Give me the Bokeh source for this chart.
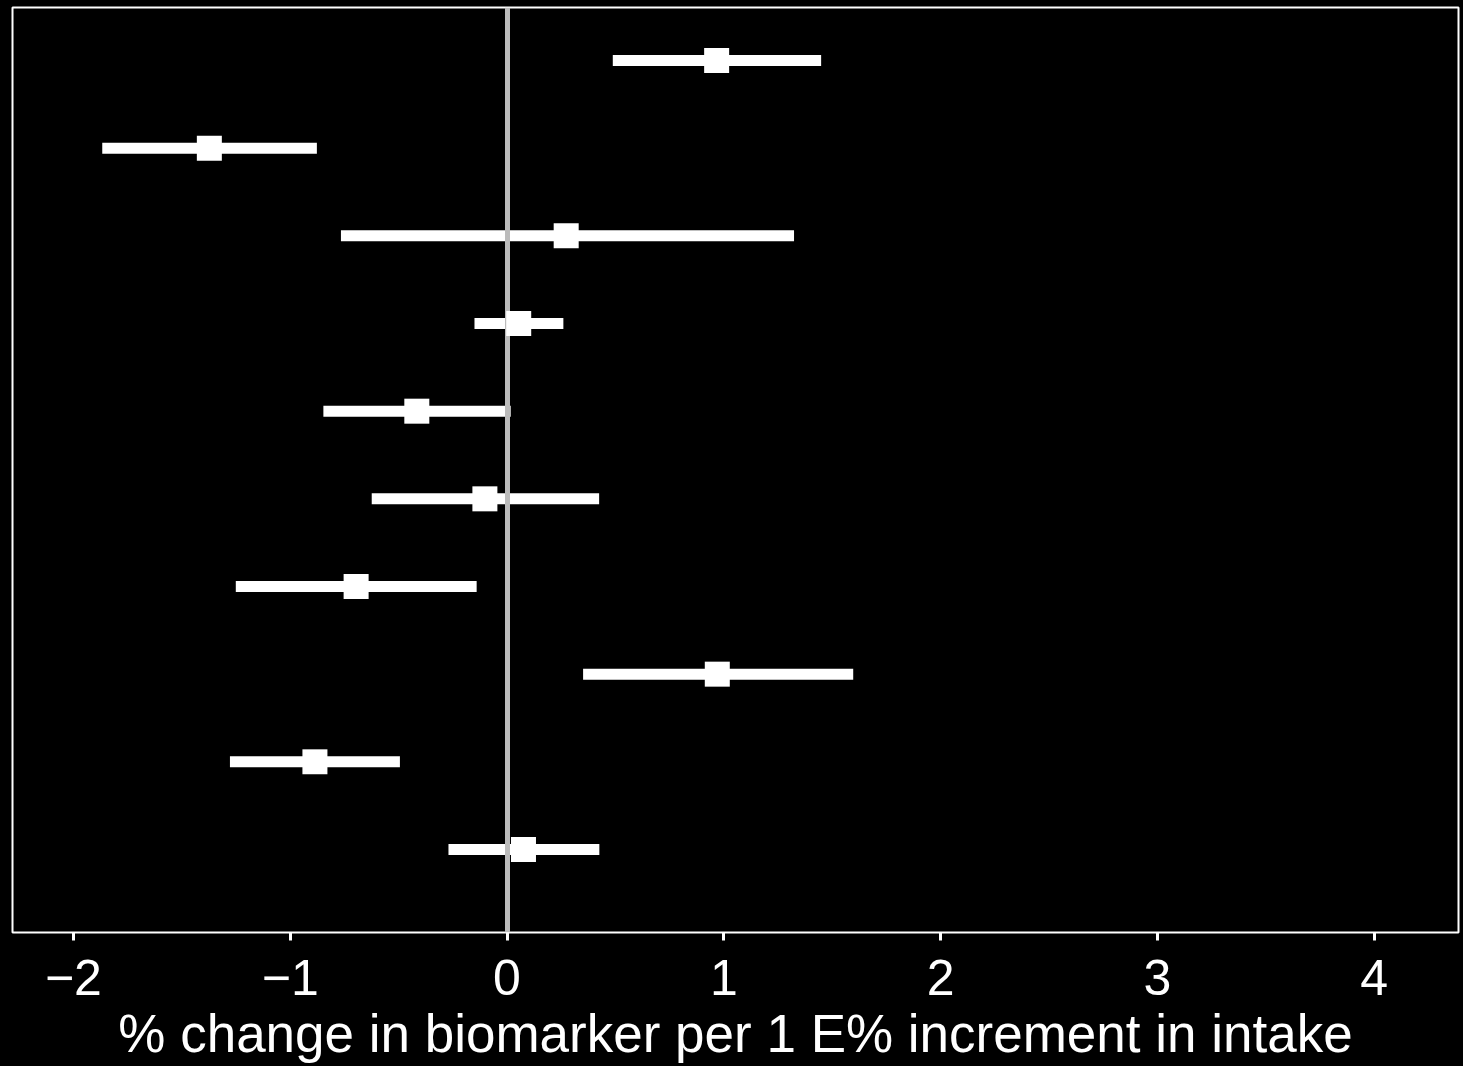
from bokeh.plotting import figure
from bokeh.models import FixedTicker, ColumnDataSource, Range1d
from bokeh.embed import file_html
from bokeh.resources import INLINE

# Data (rows from top to bottom)
row_pos = [10, 9, 8, 7, 6, 5, 4, 3, 2, 1]
estimate = [0.967, -1.373, 0.273, 0.054, -0.416, -0.102, -0.696, 0.970, -0.886, 0.076]
lower = [0.488, -1.867, -0.766, -0.150, -0.847, -0.624, -1.251, 0.351, -1.278, -0.270]
upper = [1.449, -0.877, 1.324, 0.260, 0.017, 0.425, -0.140, 1.597, -0.494, 0.426]
tick_values = [-2, -1, 0, 1, 2, 3, 4]
tick_labels = ["\u22122", "\u22121", "0", "1", "2", "3", "4"]
x_label = "% change in biomarker per 1 E% increment in intake"

src = ColumnDataSource(dict(y=row_pos, est=estimate, lo=lower, hi=upper))

FONT = "Liberation Sans"

p = figure(width=1463, height=1066, output_backend="svg", toolbar_location=None,
           x_range=Range1d(-2.281, 4.389), y_range=Range1d(0.053, 10.605),
           y_axis_location=None,
           min_border_left=12, min_border_right=5, min_border_top=7, min_border_bottom=134)

p.background_fill_color = "black"
p.border_fill_color = "black"
p.outline_line_color = "white"
p.outline_line_width = 2
p.grid.visible = False

p.segment(x0="lo", x1="hi", y0="y", y1="y", source=src, line_color="white",
          line_width=11, line_cap="butt")
p.vspan(x=[0], line_color="#bbbbbb", line_width=5)
p.scatter(x="est", y="y", source=src, marker="square", size=25,
          fill_color="white", line_color=None)

ax = p.xaxis[0]
ax.ticker = FixedTicker(ticks=tick_values, minor_ticks=[])
ax.major_label_overrides = {v: l for v, l in zip(tick_values, tick_labels)}
ax.axis_line_color = None
ax.major_tick_in = 0
ax.major_tick_out = 8
ax.major_tick_line_color = "white"
ax.major_tick_line_width = 3
ax.minor_tick_line_color = None
ax.major_label_text_color = "white"
ax.major_label_text_font = FONT
ax.major_label_text_font_size = "50px"
ax.major_label_standoff = 19
ax.axis_label = x_label
ax.axis_label_text_color = "white"
ax.axis_label_text_font = FONT
ax.axis_label_text_font_size = "53px"
ax.axis_label_text_font_style = "normal"
ax.axis_label_standoff = 6

html = file_html(p, INLINE)
html = html.replace("</head>", "<style>html, body { background: #000000 !important; }</style></head>", 1)
open("out.html", "w").write(html)
